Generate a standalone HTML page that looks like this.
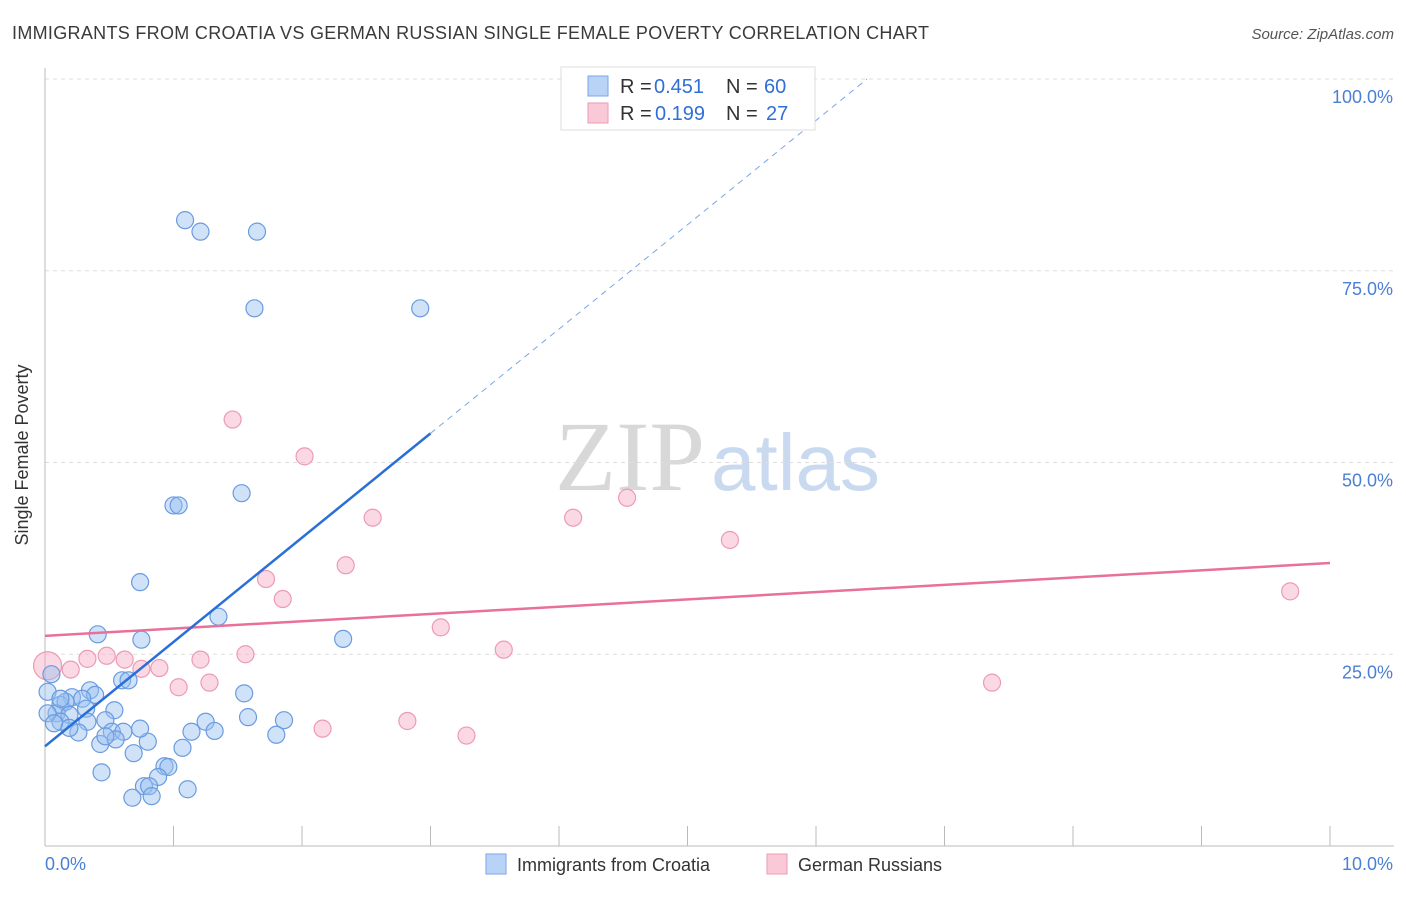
<!DOCTYPE html>
<html><head><meta charset="utf-8"><style>
body{margin:0;background:#fff;font-family:"Liberation Sans",sans-serif;}
</style></head><body>
<svg width="1406" height="892" xmlns="http://www.w3.org/2000/svg" id="chart">
<text x="12" y="39" font-size="18" fill="#3a3a3a" textLength="917" lengthAdjust="spacing">IMMIGRANTS FROM CROATIA VS GERMAN RUSSIAN SINGLE FEMALE POVERTY CORRELATION CHART</text>
<text x="1394" y="39" font-size="15" fill="#555" text-anchor="end" font-style="italic">Source: ZipAtlas.com</text>
<text x="555" y="490" font-size="100" fill="#d8d8d8" font-family="Liberation Serif,serif">ZIP<tspan fill="#c9daf0" font-family="Liberation Sans,sans-serif" font-size="80" dx="6">atlas</tspan></text>
<g id="grid"></g>
<line x1="45" y1="68" x2="45" y2="846" stroke="#bbb"/>
<line x1="45" y1="846" x2="1394" y2="846" stroke="#bbb"/>
<g id="xticks"></g>
<text x="28" y="455" font-size="18" fill="#333" text-anchor="middle" transform="rotate(-90 28 455)">Single Female Poverty</text>
<g id="marks"></g>
<g>
<rect x="561" y="67" width="254" height="63" fill="#fff" stroke="#ddd"/>
<rect x="588" y="76" width="20" height="20" fill="#b9d3f7" stroke="#7aa6e8"/>
<text x="620" y="93" font-size="20" fill="#333">R =</text><text x="654" y="93" font-size="20" fill="#2f6fd6">0.451</text>
<text x="726" y="93" font-size="20" fill="#333">N =</text><text x="764" y="93" font-size="20" fill="#2f6fd6">60</text>
<rect x="588" y="103" width="20" height="20" fill="#f9c9d7" stroke="#ee9ab3"/>
<text x="620" y="120" font-size="20" fill="#333">R =</text><text x="655" y="120" font-size="20" fill="#2f6fd6">0.199</text>
<text x="726" y="120" font-size="20" fill="#333">N =</text><text x="766" y="120" font-size="20" fill="#2f6fd6">27</text>
</g>
<g>
<rect x="486" y="854" width="20" height="20" fill="#b9d3f7" stroke="#7aa6e8"/>
<text x="517" y="871" font-size="18" fill="#333">Immigrants from Croatia</text>
<rect x="767" y="854" width="20" height="20" fill="#f9c9d7" stroke="#ee9ab3"/>
<text x="798" y="871" font-size="18" fill="#333">German Russians</text>
</g>
</svg>
<script>
const yTicks=[25,50,75,100];
const xTickVals=[0,1,2,3,4,5,6,7,8,9,10];
const blueX=[1.09,1.21,1.65,1.63,2.92,1.0,1.04,1.53,0.74,1.35,0.41,0.75,2.32,0.6,0.65,1.55,0.02,0.05,0.35,0.39,0.21,0.29,0.12,0.16,0.54,0.09,0.19,0.32,0.12,0.33,0.47,1.58,1.86,1.25,0.26,0.19,0.52,0.61,1.14,1.32,1.8,0.43,0.55,0.8,1.07,0.69,0.44,0.93,0.96,0.88,0.77,0.81,1.11,0.68,0.83,0.47,0.74,0.02,0.12,0.07];
const blueY=[81.6,80.1,80.1,70.1,70.1,44.4,44.4,46.0,34.4,29.9,27.6,26.9,27.0,21.6,21.6,19.9,20.1,22.4,20.3,19.7,19.4,19.2,18.4,18.8,17.7,17.3,17.1,17.9,16.2,16.2,16.4,16.8,16.4,16.2,14.8,15.4,14.9,14.9,14.9,15.0,14.5,13.3,13.9,13.6,12.8,12.1,9.6,10.4,10.3,9.0,7.8,7.8,7.4,6.3,6.5,14.3,15.3,17.3,19.2,16.0];
const pinkX=[1.46,2.02,2.55,2.34,1.72,1.85,3.08,1.56,3.57,0.33,0.48,0.62,0.75,0.89,1.21,0.2,1.28,1.04,2.82,2.16,3.28,4.11,4.53,5.33,7.37,9.69,0.02];
const pinkY=[55.6,50.8,42.8,36.6,34.8,32.2,28.5,25.0,25.6,24.4,24.8,24.3,23.1,23.2,24.3,23.0,21.3,20.7,16.3,15.3,14.4,42.8,45.4,39.9,21.3,33.2,23.5];
const blueLine=[13.0,13.6], pinkLine=[27.4,0.95];
const NS="http://www.w3.org/2000/svg";
const sx=v=>45+v*128.5, sy=v=>846-v*7.67;
function mk(t,a,p){const e=document.createElementNS(NS,t);for(const k in a)e.setAttribute(k,a[k]);p.appendChild(e);return e;}
const grid=document.getElementById('grid');
yTicks.forEach(t=>{
 const l=mk('line',{x1:45,x2:1394,y1:sy(t),y2:sy(t),stroke:'#ddd','stroke-dasharray':'4,4'},grid);
 
 
 const tx=mk('text',{x:1393,y:sy(t)+24,'font-size':18,fill:'#4a7fd6','text-anchor':'end'},grid);
 tx.textContent=t.toFixed(1)+'%';
 
 
});
mk('line',{x1:45,x2:1394,y1:79,y2:79,stroke:'#ddd','stroke-dasharray':'4,4'},grid);
const xt=document.getElementById('xticks');
xTickVals.forEach(t=>{
 const l=mk('line',{x1:sx(t),x2:sx(t),y1:826,y2:846,stroke:'#bbb'},xt);
 
 
});
[[0,'0.0%','start',45],[10,'10.0%','end',1393]].forEach(([v,s,a,x])=>{
 const tx=mk('text',{x:x,y:870,'font-size':18,fill:'#4a7fd6','text-anchor':a},xt);tx.textContent=s;
 
 
});
const m=document.getElementById('marks');
pinkX.forEach((x,i)=>{
 const c=mk('circle',{cx:sx(x),cy:sy(pinkY[i]),r:i==26?14:8.5,fill:'rgba(246,170,195,0.45)',stroke:'#ee9ab3','stroke-width':1.2},m);
 
 
});
blueX.forEach((x,i)=>{
 const c=mk('circle',{cx:sx(x),cy:sy(blueY[i]),r:8.5,fill:'rgba(150,190,240,0.45)',stroke:'#6a9be0','stroke-width':1.2},m);
 
 
});
const pl=mk('line',{x1:sx(0),y1:sy(pinkLine[0]),x2:sx(10),y2:sy(pinkLine[0]+pinkLine[1]*10),stroke:'#e8709a','stroke-width':2.5},m);


const bl=mk('line',{x1:sx(0),y1:sy(blueLine[0]),x2:sx(3.0),y2:sy(blueLine[0]+blueLine[1]*3.0),stroke:'#2a6fd8','stroke-width':2.5},m);


const xe=(100-blueLine[0])/blueLine[1];
const bd=mk('line',{x1:sx(3.0),y1:sy(blueLine[0]+blueLine[1]*3.0),x2:sx(xe),y2:sy(100),stroke:'#7aa6e8','stroke-width':1,'stroke-dasharray':'6,5'},m);


</script>
</body></html>
